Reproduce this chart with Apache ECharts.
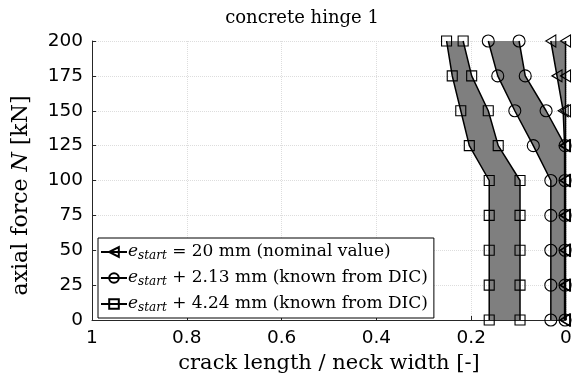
<!DOCTYPE html>
<html>
<head>
<meta charset="utf-8">
<script src="https://cdn.jsdelivr.net/npm/echarts@6/dist/echarts.min.js"></script>
<style>
  html, body { margin: 0; padding: 0; background: #fff; }
  #chart { width: 577px; height: 381px; }
</style>
</head>
<body>
<div id="chart"></div>
<script>
// axial force levels [kN]
const loads = [0, 25, 50, 75, 100, 125, 150, 175, 200];

// crack length / neck width, left and right edge of each band
const triLeft   = [0.003, 0.003, 0.003, 0.003, 0.003, 0.003, 0.006, 0.019, 0.032];
const triRight  = [0.001, 0.001, 0.001, 0.001, 0.001, 0.001, 0.001, 0.001, 0.001];
const circLeft  = [0.032, 0.032, 0.032, 0.032, 0.032, 0.069, 0.108, 0.144, 0.164];
const circRight = [0.002, 0.002, 0.002, 0.002, 0.002, 0.002, 0.042, 0.086, 0.099];
const sqLeft    = [0.162, 0.162, 0.162, 0.162, 0.162, 0.204, 0.222, 0.240, 0.252];
const sqRight   = [0.097, 0.097, 0.097, 0.097, 0.097, 0.143, 0.164, 0.199, 0.217];

// tick labels
const xTickLabels = ['1', '0.8', '0.6', '0.4', '0.2', '0'];
const xTickValues = [1, 0.8, 0.6, 0.4, 0.2, 0];
const yTickLabels = ['0', '25', '50', '75', '100', '125', '150', '175', '200'];

// legend entries
const nameTri  = 'e_start = 20 mm (nominal value)';
const nameCirc = 'e_start + 2.13 mm (known from DIC)';
const nameSq   = 'e_start + 4.24 mm (known from DIC)';

const serif = "'DejaVu Serif', serif";
const sans = "'DejaVu Sans', sans-serif";

function pairs(xs) {
  return xs.map((x, i) => [x, loads[i]]);
}

// shaded band between two edges, drawn as one polygon
function band(name, left, right) {
  const verts = pairs(left).concat(pairs(right).reverse());
  return {
    type: 'custom',
    name: name + ' band',
    data: verts,
    z: 1,
    silent: true,
    renderItem: function (params, api) {
      if (params.dataIndex !== 0) return;
      const pts = verts.map(v => api.coord(v));
      return {
        type: 'polygon',
        shape: { points: pts },
        style: { fill: '#7f7f7f', stroke: 'none' }
      };
    }
  };
}

function edge(name, xs, symbol, size, rotate) {
  return {
    type: 'line',
    name: name,
    data: pairs(xs),
    z: 3,
    symbol: symbol,
    symbolSize: size,
    symbolRotate: rotate || 0,
    showAllSymbol: true,
    lineStyle: { color: '#000', width: 1.5 },
    itemStyle: { color: 'rgba(0,0,0,0)', borderColor: '#000', borderWidth: 1.1 },
    emphasis: { disabled: true },
    animation: false
  };
}

const legendRich = {
  i: { fontFamily: serif, fontStyle: 'italic', fontSize: 17, color: '#000', lineHeight: 21 },
  s: { fontFamily: serif, fontStyle: 'italic', fontSize: 12, color: '#000', lineHeight: 12, padding: [8, 0, 0, 0] },
  t: { fontFamily: serif, fontSize: 17, color: '#000', lineHeight: 21 }
};

const chart = echarts.init(document.getElementById('chart'));
chart.setOption({
  animation: false,
  backgroundColor: '#fff',
  title: {
    text: 'concrete hinge 1',
    left: 297,
    top: 4,
    textAlign: 'center',
    textStyle: { fontFamily: serif, fontWeight: 'normal', fontSize: 18, color: '#000' }
  },
  grid: { left: 92, right: 11, top: 41, bottom: 61 },
  legend: {
    data: [nameTri, nameCirc, nameSq],
    orient: 'vertical',
    left: 98,
    top: 238,
    width: 335,
    padding: [4, 6, 4, 2],
    itemGap: 6,
    itemWidth: 26,
    itemHeight: 12,
    backgroundColor: '#fff',
    borderColor: '#000',
    borderWidth: 1,
    selectedMode: false,
    formatter: function (name) {
      const rest = name.replace('e_start', '');
      return '{i|e}{s|start}{t|' + rest + '}';
    },
    textStyle: { rich: legendRich, padding: [0, 0, 0, -4] }
  },
  xAxis: {
    type: 'value',
    inverse: true,
    min: 0,
    max: 1,
    interval: 0.2,
    name: 'crack length / neck width [-]',
    nameLocation: 'middle',
    nameGap: 33,
    nameTextStyle: { fontFamily: serif, fontSize: 21, color: '#000' },
    axisLine: { onZero: false, lineStyle: { color: '#262626', width: 1 } },
    axisTick: { inside: true, length: 4, lineStyle: { color: '#262626' } },
    axisLabel: {
      margin: 9,
      fontFamily: sans,
      fontSize: 18.5,
      color: '#000',
      formatter: function (v) {
        const k = xTickValues.findIndex(t => Math.abs(t - v) < 1e-6);
        return k >= 0 ? xTickLabels[k] : '';
      }
    },
    splitLine: { show: true, lineStyle: { color: '#dddddd', type: 'dotted', width: 1 } }
  },
  yAxis: {
    type: 'value',
    min: 0,
    max: 200,
    interval: 25,
    name: '{t|axial force }{i|N}{t| [kN]}',
    nameLocation: 'middle',
    nameGap: 60,
    nameTextStyle: {
      padding: [0, 30, 0, 0],
      rich: {
        t: { fontFamily: serif, fontSize: 22, color: '#000' },
        i: { fontFamily: serif, fontStyle: 'italic', fontSize: 22, color: '#000' }
      }
    },
    axisLine: { show: true, onZero: false, lineStyle: { color: '#262626', width: 1 } },
    axisTick: { show: true, inside: true, length: 4, lineStyle: { color: '#262626' } },
    axisLabel: {
      margin: 9,
      fontFamily: sans,
      fontSize: 18.5,
      color: '#000',
      formatter: function (v) {
        const k = loads.indexOf(v);
        return k >= 0 ? yTickLabels[k] : '';
      }
    },
    splitLine: { show: true, lineStyle: { color: '#dddddd', type: 'dotted', width: 1 } }
  },
  series: [
    band(nameSq, sqLeft, sqRight),
    band(nameCirc, circLeft, circRight),
    band(nameTri, triLeft, triRight),
    edge(nameTri, triLeft, 'triangle', [12, 10], 90),
    edge(nameTri, triRight, 'triangle', [12, 10], 90),
    edge(nameCirc, circLeft, 'circle', 12),
    edge(nameCirc, circRight, 'circle', 12),
    edge(nameSq, sqLeft, 'rect', 10),
    edge(nameSq, sqRight, 'rect', 10)
  ]
});
</script>
</body>
</html>
